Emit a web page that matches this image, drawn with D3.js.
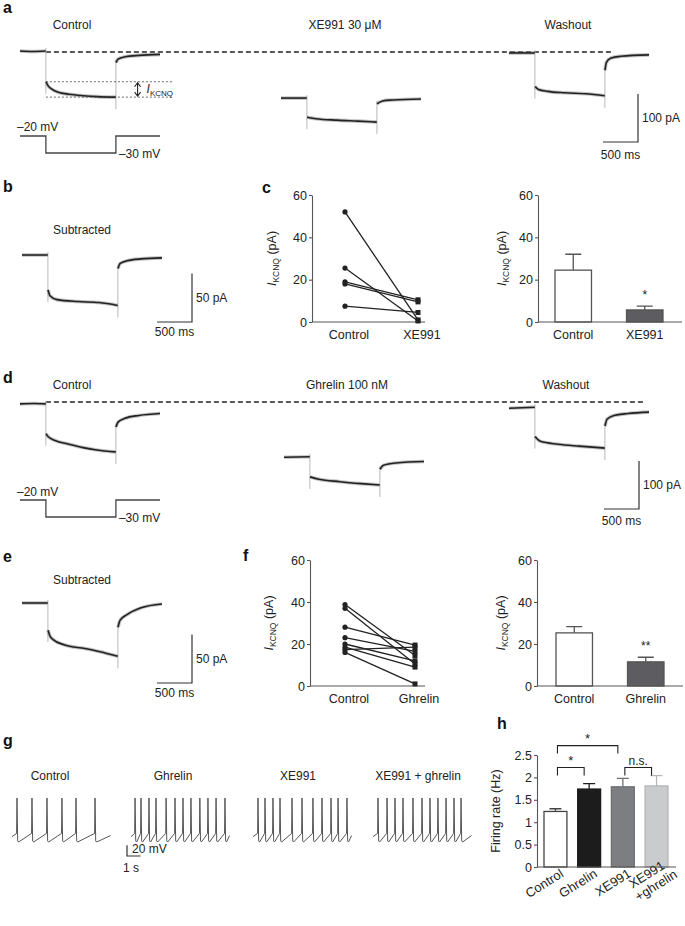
<!DOCTYPE html>
<html>
<head>
<meta charset="utf-8">
<script src="https://cdn.jsdelivr.net/npm/d3@7"></script>
<style>
  body { margin: 0; background: #fff; }
</style>
</head>
<body>
<div id="fig"></div>
<script>
// ---------- data ----------
// a / d: membrane currents in pA relative to the dashed holding level, time in ms
// each trace = [before step, during step, after step]
var aControl = [
  [[0, 2], [180, 1], [368, 2]],
  [[372, -62], [400, -70], [450, -77], [550, -84], [700, -88], [900, -91], [1100, -93], [1368, -94]],
  [[1372, -22], [1400, -15], [1500, -10], [1700, -7], [2000, -5]]
];
var aXE991 = [
  [[0, -96], [368, -96]],
  [[372, -136], [500, -139], [800, -142], [1100, -144], [1368, -146]],
  [[1372, -108], [1450, -102], [1600, -100], [2000, -98]]
];
var aWashout = [
  [[0, -2], [368, -2]],
  [[372, -72], [420, -78], [550, -82], [800, -85], [1100, -87], [1368, -91]],
  [[1372, -38], [1390, -22], [1450, -13], [1600, -9], [2000, -6]]
];
var dControl = [
  [[0, -4], [200, -3], [368, -4]],
  [[372, -66], [400, -72], [500, -80], [700, -88], [900, -95], [1100, -100], [1368, -104]],
  [[1372, -52], [1400, -42], [1500, -34], [1700, -28], [2000, -24]]
];
var dGhrelin = [
  [[0, -115], [368, -114]],
  [[372, -156], [500, -161], [800, -166], [1100, -170], [1368, -173]],
  [[1372, -140], [1420, -132], [1600, -127], [2000, -124]]
];
var dWashout = [
  [[0, -13], [368, -11]],
  [[372, -72], [450, -82], [700, -88], [1000, -92], [1368, -96]],
  [[1372, -50], [1400, -36], [1500, -28], [1700, -24], [2000, -21]]
];
// b / e: subtracted (control - drug) currents, pA
var bSubtracted = [
  [[0, 0], [368, 0]],
  [[372, -36], [400, -42], [500, -46], [800, -48], [1100, -49], [1368, -52]],
  [[1372, -14], [1400, -9], [1500, -6], [1700, -4], [2000, -3]]
];
var eSubtracted = [
  [[0, 0], [368, 0]],
  [[372, -28], [400, -34], [450, -38], [600, -43], [900, -47], [1100, -50], [1368, -55]],
  [[1372, -25], [1400, -18], [1500, -12], [1700, -5], [2000, -1]]
];
// voltage protocol (mV)
var vProtocol = [[0, -20], [370, -20], [370, -30], [1370, -30], [1370, -20], [2000, -20]];

// c: I_KCNQ per cell and means
var cCats = ["Control", "XE991"];
var cControl = [52, 25.5, 19, 18, 7.5];
var cXE991 = [1, 0.5, 10.5, 9.5, 4.5];
var cMean = [24.5, 5.7];
var cSem = [7.5, 1.8];

// f: I_KCNQ per cell and means
var fCats = ["Control", "Ghrelin"];
var fControl = [38.8, 37, 28, 23, 20, 18.5, 17.3, 16];
var fGhrelin = [14.5, 10.5, 19.5, 16.5, 12, 9, 18.5, 1];
var fMean = [25.3, 11.5];
var fSem = [3, 2.2];

var kcnqTicks = [0, 20, 40, 60];

// g: spike times (s) in each 7.3 s sweep
var gTitles = ["Control", "Ghrelin", "XE991", "XE991+ghrelin"];
var gControl = [0.37, 1.48, 2.59, 3.7, 4.74, 6.15];
var gGhrelin = [0.3, 0.74, 1.33, 1.85, 2.6, 3.26, 3.85, 4.44, 5.1, 5.7, 6.3, 6.96];
var gXE991 = [0.37, 0.89, 1.48, 2.0, 2.89, 3.63, 4.44, 5.11, 5.78, 6.3, 6.96];
var gXE991Ghrelin = [0.37, 1.04, 1.63, 2.22, 2.96, 3.63, 4.22, 4.81, 5.41, 6.0, 6.52];

// h: firing rate
var hCats = ["Control", "Ghrelin", "XE991", "XE991+ghrelin"];
var hMean = [1.24, 1.74, 1.79, 1.81];
var hSem = [0.06, 0.12, 0.19, 0.23];
var hTicks = [0, 0.5, 1, 1.5, 2, 2.5];
var hComparisons = [[0, 1, "*", 2.22], [0, 2, "*", 2.71], [2, 3, "n.s.", 2.22]];

// ---------- drawing ----------
var FONT = "'Liberation Sans', Arial, Helvetica, sans-serif";
var svg = d3.select("#fig").append("svg")
  .attr("width", 685).attr("height", 926)
  .style("font-family", FONT);
svg.append("rect").attr("width", 685).attr("height", 926).attr("fill", "#fff");

function txt(x, y, s, size, anchor) {
  return svg.append("text").attr("x", x).attr("y", y)
    .attr("font-size", size || 12).attr("text-anchor", anchor || "start")
    .attr("fill", "#222").text(s);
}

// panel letters
[["a", 3, 13], ["b", 3, 192], ["c", 262, 193], ["d", 3, 383],
 ["e", 3, 562], ["f", 243, 561], ["g", 3, 746], ["h", 497, 729]].forEach(function(l) {
  txt(l[1], l[2], l[0], 16).attr("font-weight", "bold").attr("fill", "#111");
});

var msPx = 0.07; // px per ms
function traceScales(x0, y0, pxPerPA) {
  return {
    x: d3.scaleLinear().domain([0, 2000]).range([x0, x0 + 2000 * msPx]),
    y: d3.scaleLinear().domain([0, -100]).range([y0, y0 + 100 * pxPerPA])
  };
}

function drawTrace(segs, sc) {
  var line = d3.line().x(function(d) { return sc.x(d[0]); })
    .y(function(d) { return sc.y(d[1]); }).curve(d3.curveMonotoneX);
  // capacitive transients at the voltage steps
  for (var i = 0; i < segs.length - 1; i++) {
    var p = segs[i][segs[i].length - 1], q = segs[i + 1][0];
    var hi = Math.max(p[1], q[1]), lo = Math.min(p[1], q[1]);
    var xt = sc.x((p[0] + q[0]) / 2);
    svg.append("line").attr("x1", xt).attr("x2", xt)
      .attr("y1", sc.y(hi) - 3).attr("y2", sc.y(lo) + 12)
      .attr("stroke", "#b8b8b8").attr("stroke-width", 1);
  }
  segs.forEach(function(s) {
    svg.append("path").attr("d", line(s)).attr("fill", "none")
      .attr("stroke", "#888").attr("stroke-width", 3.6).attr("stroke-opacity", 0.5);
    svg.append("path").attr("d", line(s)).attr("fill", "none")
      .attr("stroke", "#222").attr("stroke-width", 1.6);
  });
}

function protocol(x0, yHigh, labelY1, labelY2) {
  var x = d3.scaleLinear().domain([0, 2000]).range([x0, x0 + 2000 * msPx]);
  var y = d3.scaleLinear().domain([-20, -30]).range([yHigh, yHigh + 17]);
  svg.append("path")
    .attr("d", d3.line().x(function(d) { return x(d[0]); }).y(function(d) { return y(d[1]); })(vProtocol))
    .attr("fill", "none").attr("stroke", "#444").attr("stroke-width", 1.3);
  txt(x0 - 3, labelY1, "\u201320 mV", 12);
  txt(x(1370) + 3, labelY2, "\u201330 mV", 12);
}

function scaleBar(xr, yb, sc, pA, pAlabel, ybLabel) {
  var h = sc.y(-pA) - sc.y(0), w = sc.x(500) - sc.x(0);
  svg.append("path").attr("d", "M" + (xr - w) + "," + yb + "H" + xr + "V" + (yb - h))
    .attr("fill", "none").attr("stroke", "#333").attr("stroke-width", 1.2);
  txt(xr + 4, yb - h / 2 + 4, pAlabel, 12);
  txt(xr - w / 2, ybLabel, "500 ms", 12, "middle");
}

function kcnqLabel(cx, cy) {
  var t = svg.append("text").attr("transform", "translate(" + cx + "," + cy + ") rotate(-90)")
    .attr("text-anchor", "middle").attr("font-size", 12.5).attr("fill", "#222");
  t.append("tspan").attr("font-style", "italic").text("I");
  t.append("tspan").attr("font-size", 8.5).attr("dy", 3).text("KCNQ");
  t.append("tspan").attr("dy", -3).text(" (pA)");
}

// ---- panel a ----
var aCtl = traceScales(20, 52, 0.48), aXE = traceScales(281, 52, 0.48), aWash = traceScales(509, 52, 0.48);
txt(72, 29, "Control", 12, "middle");
txt(345, 29, "XE991 30 \u03bcM", 12, "middle");
txt(568, 29, "Washout", 12, "middle");
svg.append("line").attr("x1", aCtl.x(370)).attr("x2", aWash.x(1500))
  .attr("y1", aCtl.y(0)).attr("y2", aCtl.y(0))
  .attr("stroke", "#222").attr("stroke-width", 1.3).attr("stroke-dasharray", "5,3");
drawTrace(aControl, aCtl);
drawTrace(aXE991, aXE);
drawTrace(aWashout, aWash);
// I_KCNQ marker
var kTop = aCtl.y(aControl[1][0][1]), kBot = aCtl.y(aControl[1][aControl[1].length - 1][1]);
[kTop, kBot].forEach(function(yy) {
  svg.append("line").attr("x1", aCtl.x(370)).attr("x2", aCtl.x(2170))
    .attr("y1", yy).attr("y2", yy).attr("stroke", "#444").attr("stroke-width", 0.8)
    .attr("stroke-dasharray", "2,2");
});
var ax = aCtl.x(1680);
svg.append("path")
  .attr("d", "M" + ax + "," + (kTop + 1) + "V" + (kBot - 1) +
    "M" + (ax - 3) + "," + (kTop + 5) + "L" + ax + "," + (kTop + 1) + "L" + (ax + 3) + "," + (kTop + 5) +
    "M" + (ax - 3) + "," + (kBot - 5) + "L" + ax + "," + (kBot - 1) + "L" + (ax + 3) + "," + (kBot - 5))
  .attr("fill", "none").attr("stroke", "#222").attr("stroke-width", 1.1);
var kl = svg.append("text").attr("x", ax + 9).attr("y", (kTop + kBot) / 2 + 4)
  .attr("font-size", 12).attr("fill", "#222");
kl.append("tspan").attr("font-style", "italic").text("I");
kl.append("tspan").attr("font-size", 8).attr("dy", 3).text("KCNQ");
protocol(20, 136, 131, 158);
scaleBar(638, 142, aCtl, 100, "100 pA", 159);

// ---- panel b ----
var bSc = traceScales(22, 255, 0.97);
txt(82, 234, "Subtracted", 12, "middle");
drawTrace(bSubtracted, bSc);
scaleBar(192, 322, bSc, 50, "50 pA", 336);

// ---- panel d ----
var dCtl = traceScales(20, 402, 0.48), dGh = traceScales(284, 402, 0.48), dWash = traceScales(509, 402, 0.48);
txt(72, 389, "Control", 12, "middle");
txt(347, 389, "Ghrelin 100 nM", 12, "middle");
txt(566, 389, "Washout", 12, "middle");
svg.append("line").attr("x1", dCtl.x(370)).attr("x2", dWash.x(1930))
  .attr("y1", dCtl.y(0)).attr("y2", dCtl.y(0))
  .attr("stroke", "#222").attr("stroke-width", 1.3).attr("stroke-dasharray", "5,3");
drawTrace(dControl, dCtl);
drawTrace(dGhrelin, dGh);
drawTrace(dWashout, dWash);
protocol(20, 500, 496, 522);
scaleBar(639, 509, dCtl, 100, "100 pA", 525);

// ---- panel e ----
var eSc = traceScales(22, 603, 0.97);
txt(82, 584, "Subtracted", 12, "middle");
drawTrace(eSubtracted, eSc);
scaleBar(192, 683, eSc, 50, "50 pA", 697);

// ---- axes helpers ----
function yAxis(scale, x, ticks, fmt) {
  var g = svg.append("g").attr("transform", "translate(" + x + ",0)")
    .call(d3.axisLeft(scale).tickValues(ticks).tickSize(3).tickSizeOuter(0).tickPadding(2)
      .tickFormat(fmt || function(d) { return String(d); }));
  g.attr("font-family", FONT).attr("font-size", 12.5);
  g.select(".domain").attr("stroke", "#555").attr("stroke-width", 1.1);
  g.selectAll(".tick line").attr("stroke", "#555").attr("stroke-width", 1.1);
  g.selectAll(".tick text").attr("fill", "#222");
  return g;
}
function xLine(y, x1, x2) {
  svg.append("line").attr("x1", x1).attr("x2", x2).attr("y1", y).attr("y2", y)
    .attr("stroke", "#555").attr("stroke-width", 1.1);
}

function pairedPanel(cats, ctl, trt, xr, yr, axisX, axisEnd, labX) {
  var x = d3.scalePoint().domain(cats).range(xr);
  var y = d3.scaleLinear().domain([0, 60]).range(yr);
  yAxis(y, axisX, kcnqTicks);
  xLine(y(0), axisX, axisEnd);
  kcnqLabel(labX, (yr[0] + yr[1]) / 2);
  ctl.forEach(function(v, i) {
    svg.append("line").attr("x1", x(cats[0])).attr("x2", x(cats[1]))
      .attr("y1", y(v)).attr("y2", y(trt[i])).attr("stroke", "#222").attr("stroke-width", 1.3);
  });
  svg.selectAll(null).data(ctl).enter().append("circle")
    .attr("cx", x(cats[0])).attr("cy", function(d) { return y(d); }).attr("r", 2.6).attr("fill", "#222");
  svg.selectAll(null).data(trt).enter().append("rect")
    .attr("x", x(cats[1]) - 2.5).attr("y", function(d) { return y(d) - 2.5; })
    .attr("width", 5).attr("height", 5).attr("fill", "#222");
  cats.forEach(function(c) { txt(x(c) + 4, y(0) + 17, c, 12.5, "middle"); });
}

function meanPanel(cats, mean, sem, fill, xr, yr, axisX, axisEnd, labX, star) {
  var x = d3.scaleBand().domain(cats).range(xr).paddingInner(0.49);
  var y = d3.scaleLinear().domain([0, 60]).range(yr);
  yAxis(y, axisX, kcnqTicks);
  kcnqLabel(labX, (yr[0] + yr[1]) / 2);
  cats.forEach(function(c, i) {
    var cx = x(c) + x.bandwidth() / 2;
    svg.append("path").attr("d", "M" + cx + "," + y(mean[i]) + "V" + y(mean[i] + sem[i]) +
      "M" + (cx - 8) + "," + y(mean[i] + sem[i]) + "H" + (cx + 8))
      .attr("stroke", "#555").attr("stroke-width", 1.3).attr("fill", "none");
    svg.append("rect").attr("x", x(c)).attr("y", y(mean[i]))
      .attr("width", x.bandwidth()).attr("height", y(0) - y(mean[i]))
      .attr("fill", fill[i]).attr("stroke", "#555").attr("stroke-width", 1.3);
    txt(cx, y(0) + 17, c, 12.5, "middle");
  });
  xLine(y(0), axisX, axisEnd);
  var last = cats[cats.length - 1];
  txt(x(last) + x.bandwidth() / 2, y(mean[1] + sem[1]) - 7, star, 12, "middle");
}

// ---- panel c ----
pairedPanel(cCats, cControl, cXE991, [345, 418], [322, 195], 312, 425, 276);
meanPanel(cCats, cMean, cSem, ["#fff", "#5d5d61"], [555, 663], [322, 195], 538, 682, 506, "*");

// ---- panel f ----
pairedPanel(fCats, fControl, fGhrelin, [345, 415], [686, 560], 310, 425, 273);
meanPanel(fCats, fMean, fSem, ["#fff", "#5d5d61"], [556, 664], [686, 560], 537, 683, 505, "**");

// ---- panel g ----
var gX0 = [12, 131, 253, 373];
var gTitleX = [50, 173, 298, 418];
var gSweeps = [gControl, gGhrelin, gXE991, gXE991Ghrelin];
var vmY = d3.scaleLinear().domain([-62, 20]).range([842, 798]);
var sPerPx = 13.5;
gSweeps.forEach(function(times, k) {
  var x = d3.scaleLinear().domain([0, 7.3]).range([gX0[k], gX0[k] + 7.3 * sPerPx]);
  var pts = [[0, -52]];
  times.forEach(function(t) {
    pts.push([t - 0.03, -46], [t, 20], [t + 0.05, -60], [t + 0.12, -62]);
  });
  pts.push([7.3, -50]);
  svg.append("path")
    .attr("d", d3.line().x(function(d) { return x(d[0]); }).y(function(d) { return vmY(d[1]); })(pts))
    .attr("fill", "none").attr("stroke", "#555").attr("stroke-width", 1);
  txt(gTitleX[k], 780, gTitles[k].replace("+", " + "), 12, "middle");
});
// 20 mV / 1 s scale bar
var sbX = 127, sbBottom = 856, sbH = vmY(-40) - vmY(-20);
svg.append("path").attr("d", "M" + sbX + "," + (sbBottom - sbH) + "V" + sbBottom + "H" + (sbX + sPerPx))
  .attr("fill", "none").attr("stroke", "#333").attr("stroke-width", 1.2);
txt(sbX + 5, sbBottom - 3, "20 mV", 12);
txt(sbX - 4, 872, "1 s", 12);

// ---- panel h ----
var hx = d3.scaleBand().domain(hCats).range([544, 668]).paddingInner(0.32);
var hy = d3.scaleLinear().domain([0, 2.5]).range([867, 755]);
var hFill = ["#ffffff", "#1c1c1c", "#7d7e82", "#cacbcd"];
var hStroke = ["#444", "#1c1c1c", "#6f7074", "#b5b6b8"];
yAxis(hy, 537, hTicks);
svg.append("text").attr("transform", "translate(500,811) rotate(-90)")
  .attr("text-anchor", "middle").attr("font-size", 12.5).attr("fill", "#222")
  .text("Firing rate (Hz)");
hCats.forEach(function(c, i) {
  var cx = hx(c) + hx.bandwidth() / 2;
  svg.append("path").attr("d", "M" + cx + "," + hy(hMean[i]) + "V" + hy(hMean[i] + hSem[i]) +
    "M" + (cx - 6) + "," + hy(hMean[i] + hSem[i]) + "H" + (cx + 6))
    .attr("stroke", hStroke[i]).attr("stroke-width", 1.3).attr("fill", "none");
  svg.append("rect").attr("x", hx(c)).attr("y", hy(hMean[i]))
    .attr("width", hx.bandwidth()).attr("height", hy(0) - hy(hMean[i]))
    .attr("fill", hFill[i]).attr("stroke", hStroke[i]).attr("stroke-width", 1.3);
  var parts = c.split("+");
  var t = svg.append("text").attr("text-anchor", "end").attr("font-size", 13).attr("fill", "#222")
    .attr("transform", "translate(" + (cx + 9) + "," + (parts.length > 1 ? 868 : 876) + ") rotate(-32)");
  t.append("tspan").attr("x", 0).text(parts[0]);
  if (parts.length > 1) t.append("tspan").attr("x", 6).attr("dy", 14).text("+" + parts[1]);
});
xLine(hy(0), 537, 676);
hComparisons.forEach(function(cmp) {
  var x1 = hx(hCats[cmp[0]]) + hx.bandwidth() / 2 + 2;
  var x2 = hx(hCats[cmp[1]]) + hx.bandwidth() / 2 - 5;
  var yb = hy(cmp[3]);
  svg.append("path").attr("d", "M" + x1 + "," + (yb + 8) + "V" + yb + "H" + x2 + "V" + (yb + 8))
    .attr("fill", "none").attr("stroke", "#222").attr("stroke-width", 1.1);
  txt((x1 + x2) / 2, yb - 3, cmp[2], cmp[2] === "*" ? 13 : 12, "middle");
});
</script>
</body>
</html>
